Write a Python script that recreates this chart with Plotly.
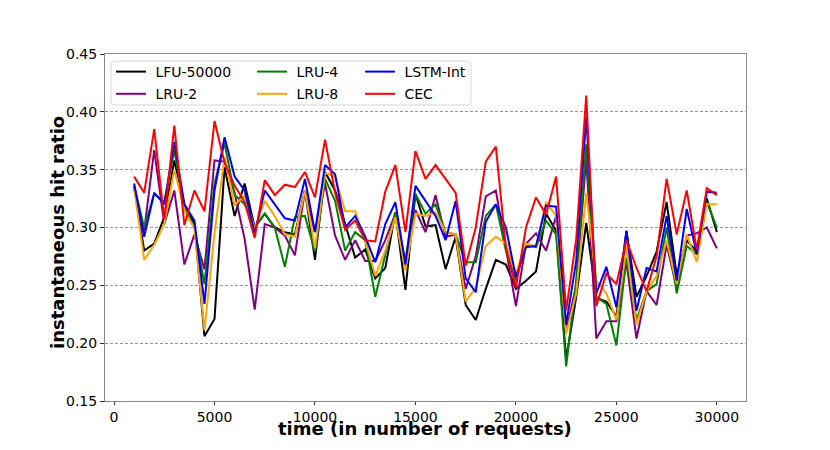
import plotly.graph_objects as go

# x positions (number of requests)
time_points = [1000 + 500 * i for i in range(59)]

lfu_50000 = [0.335, 0.280, 0.286, 0.309, 0.358, 0.320, 0.303, 0.206, 0.221, 0.352,
             0.310, 0.338, 0.300, 0.312, 0.300, 0.296, 0.294, 0.332, 0.272, 0.348,
             0.332, 0.303, 0.274, 0.281, 0.256, 0.265, 0.313, 0.246, 0.329, 0.301,
             0.302, 0.264, 0.292, 0.233, 0.220, 0.247, 0.272, 0.268, 0.247, 0.254,
             0.262, 0.312, 0.297, 0.186, 0.240, 0.304, 0.239, 0.236, 0.223, 0.297,
             0.240, 0.258, 0.279, 0.322, 0.259, 0.289, 0.279, 0.325, 0.296]

lru_2 = [0.335, 0.297, 0.367, 0.303, 0.332, 0.268, 0.294, 0.264, 0.358, 0.357,
         0.330, 0.290, 0.229, 0.303, 0.300, 0.293, 0.276, 0.332, 0.296, 0.338,
         0.293, 0.272, 0.289, 0.271, 0.271, 0.289, 0.312, 0.268, 0.315, 0.296,
         0.328, 0.292, 0.294, 0.247, 0.275, 0.327, 0.332, 0.283, 0.232, 0.286,
         0.295, 0.280, 0.310, 0.210, 0.250, 0.360, 0.204, 0.219, 0.219, 0.270,
         0.204, 0.245, 0.233, 0.285, 0.248, 0.293, 0.295, 0.300, 0.282]

lru_4 = [0.336, 0.300, 0.329, 0.322, 0.367, 0.318, 0.300, 0.251, 0.338, 0.373,
         0.328, 0.320, 0.300, 0.312, 0.300, 0.266, 0.309, 0.310, 0.279, 0.342,
         0.323, 0.280, 0.296, 0.289, 0.240, 0.277, 0.313, 0.271, 0.329, 0.312,
         0.320, 0.296, 0.294, 0.270, 0.270, 0.310, 0.320, 0.280, 0.254, 0.286,
         0.283, 0.306, 0.294, 0.180, 0.254, 0.372, 0.240, 0.234, 0.198, 0.274,
         0.220, 0.245, 0.251, 0.300, 0.243, 0.284, 0.277, 0.322, 0.300]

lru_8 = [0.334, 0.272, 0.285, 0.303, 0.350, 0.315, 0.299, 0.211, 0.295, 0.361,
         0.319, 0.328, 0.299, 0.323, 0.310, 0.294, 0.292, 0.332, 0.282, 0.347,
         0.344, 0.314, 0.314, 0.289, 0.258, 0.280, 0.309, 0.263, 0.312, 0.310,
         0.313, 0.296, 0.294, 0.236, 0.248, 0.284, 0.292, 0.286, 0.260, 0.286,
         0.284, 0.322, 0.310, 0.208, 0.243, 0.330, 0.254, 0.243, 0.220, 0.283,
         0.216, 0.245, 0.258, 0.289, 0.251, 0.294, 0.270, 0.320, 0.320]

lstm_int = [0.338, 0.292, 0.330, 0.320, 0.374, 0.320, 0.306, 0.234, 0.332, 0.378,
            0.344, 0.332, 0.295, 0.332, 0.320, 0.308, 0.306, 0.342, 0.296, 0.354,
            0.346, 0.300, 0.310, 0.292, 0.270, 0.303, 0.322, 0.268, 0.336, 0.323,
            0.310, 0.289, 0.323, 0.256, 0.244, 0.305, 0.320, 0.300, 0.257, 0.283,
            0.284, 0.319, 0.318, 0.216, 0.271, 0.396, 0.243, 0.266, 0.231, 0.297,
            0.228, 0.265, 0.262, 0.310, 0.254, 0.316, 0.277, 0.331, 0.330]

cec = [0.344, 0.330, 0.385, 0.307, 0.388, 0.302, 0.332, 0.314, 0.392, 0.356,
       0.336, 0.322, 0.291, 0.341, 0.328, 0.337, 0.335, 0.348, 0.326, 0.376,
       0.330, 0.298, 0.306, 0.289, 0.288, 0.331, 0.354, 0.296, 0.366, 0.342,
       0.354, 0.342, 0.330, 0.267, 0.300, 0.357, 0.370, 0.283, 0.248, 0.300,
       0.326, 0.311, 0.344, 0.228, 0.290, 0.414, 0.232, 0.260, 0.251, 0.289,
       0.265, 0.245, 0.275, 0.342, 0.294, 0.332, 0.281, 0.334, 0.328]

series_names = ["LFU-50000", "LRU-2", "LRU-4", "LRU-8", "LSTM-Int", "CEC"]
series_values = [lfu_50000, lru_2, lru_4, lru_8, lstm_int, cec]
series_colors = ["black", "purple", "green", "orange", "blue", "red"]
series_legends = ["legend", "legend", "legend2", "legend2", "legend3", "legend3"]

x_tick_vals = [0, 5000, 10000, 15000, 20000, 25000, 30000]
x_tick_text = ["0", "5000", "10000", "15000", "20000", "25000", "30000"]
y_tick_vals = [0.15, 0.20, 0.25, 0.30, 0.35, 0.40, 0.45]
y_tick_text = ["0.15", "0.20", "0.25", "0.30", "0.35", "0.40", "0.45"]

FONT = "DejaVu Sans"
NB = "\u00a0"

fig = go.Figure()
for name, vals, col, leg in zip(series_names, series_values, series_colors, series_legends):
    fig.add_trace(go.Scatter(
        x=time_points, y=vals, mode="lines", name=NB + name,
        line=dict(color=col, width=2), legend=leg, legendgroup=name,
    ))

# page body adds an 8px offset; work in screen pixels
OFF = 8
W, H = 830, 450
SL, SR, ST, SB = 105, 746, 54, 401   # desired plot-area edges on screen
L = SL - OFF
T = ST - OFF
R = W - (SR - OFF)
B = H - (SB - OFF)
pw, ph = W - L - R, H - T - B

def sx(px):
    return (px - SL) / pw

def sy(py):
    return (SB - py) / ph

legend_common = dict(
    orientation="v", xanchor="left", yanchor="top",
    bgcolor="rgba(0,0,0,0)", borderwidth=0,
    font=dict(family=FONT, size=14, color="black"),
    tracegroupgap=1, itemwidth=30,
)

fig.update_layout(
    width=W, height=H,
    margin=dict(l=L, r=R, t=T, b=B, autoexpand=False),
    paper_bgcolor="white", plot_bgcolor="white",
    font=dict(family=FONT, size=14, color="black"),
    showlegend=True,
    legend=dict(x=sx(111), y=sy(56), **legend_common),
    legend2=dict(x=sx(252), y=sy(56), **legend_common),
    legend3=dict(x=sx(360), y=sy(56), **legend_common),
    xaxis=dict(
        range=[-450, 31450], tickmode="array", tickvals=x_tick_vals, ticktext=x_tick_text,
        showgrid=False, zeroline=False, showline=True, linecolor="#888888", linewidth=1,
        mirror=True, ticks="outside", ticklen=3, tickcolor="#333333",
        tickfont=dict(family=FONT, size=14, color="black"),
    ),
    yaxis=dict(
        range=[0.15, 0.45], tickmode="array", tickvals=y_tick_vals, ticktext=y_tick_text,
        showgrid=True, gridcolor="#999999", gridwidth=1, griddash="3px,2px",
        zeroline=False, showline=True, linecolor="#888888", linewidth=1,
        mirror=True, ticks="outside", ticklen=4, tickcolor="#333333",
        tickfont=dict(family=FONT, size=14, color="black"),
    ),
    annotations=[
        dict(text="<b>time (in number of requests)</b>", xref="paper", yref="paper",
             x=sx(425), y=sy(428), xanchor="center", yanchor="middle", showarrow=False,
             borderpad=0, font=dict(family=FONT, size=18, color="black")),
        dict(text="<b>instantaneous hit ratio</b>", xref="paper", yref="paper",
             x=sx(58), y=sy(233), xanchor="center", yanchor="middle", showarrow=False,
             borderpad=0, textangle=-90, font=dict(family=FONT, size=18, color="black")),
    ],
)

# rounded legend frame
x0, x1 = sx(111), sx(471)
y0, y1 = sy(105), sy(61)
rx = 4 / pw
ry = 4 / ph
path = (f"M {x0+rx},{y1} L {x1-rx},{y1} Q {x1},{y1} {x1},{y1-ry} "
        f"L {x1},{y0+ry} Q {x1},{y0} {x1-rx},{y0} L {x0+rx},{y0} "
        f"Q {x0},{y0} {x0},{y0+ry} L {x0},{y1-ry} Q {x0},{y1} {x0+rx},{y1} Z")
fig.add_shape(type="path", path=path, xref="paper", yref="paper",
              line=dict(color="#d6d6d6", width=1), fillcolor="rgba(255,255,255,0.8)",
              layer="above")

fig.write_html("out.html")
